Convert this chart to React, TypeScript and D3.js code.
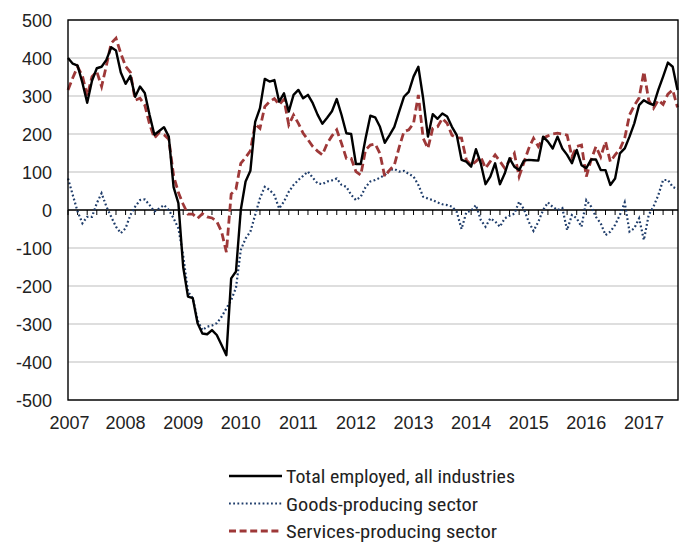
import React from "react";
import * as d3 from "d3";

const startYear = 2007;
const yearLabels = ["2007", "2008", "2009", "2010", "2011", "2012", "2013", "2014", "2015", "2016", "2017"];
const yTicks = [500, 400, 300, 200, 100, 0, -100, -200, -300, -400, -500];

// Monthly values, Jan 2007 – Aug 2017
const totalEmployed = [
  400, 385, 380, 335, 282, 340, 373, 377, 395, 428,
  420, 362, 332, 353, 298, 325, 308, 250, 198, 208,
  218, 193, 60, 18, -150, -228, -232, -298, -325, -327,
  -316, -329, -355, -382, -180, -162, 0, 75, 103, 232,
  268, 345, 338, 342, 285, 307, 259, 303, 316, 294,
  303, 281, 251, 227, 243, 260, 292, 250, 202, 200,
  121, 121, 188, 248, 244, 219, 177, 197, 219, 259,
  298, 311, 351, 377, 294, 193, 252, 240, 254, 246,
  219, 197, 132, 127, 114, 160, 123, 68, 88, 123,
  68, 96, 136, 114, 105, 130, 132, 131, 130, 193,
  180, 162, 193, 162, 145, 123, 158, 118, 110, 133,
  133, 105, 105, 66, 83, 149, 162, 193, 228, 276,
  289, 281, 276, 316, 351, 388, 377, 316,
];

const goodsProducing = [
  83, 39, -4, -35, -18, -18, 18, 44, 9, -18,
  -44, -61, -48, -13, 9, 26, 28, 13, -4, 4,
  13, 0, -22, -48, -120, -215, -232, -290, -316, -307,
  -304, -298, -281, -259, -237, -205, -105, -75, -57, -13,
  31, 61, 53, 39, 4, 22, 48, 66, 79, 90,
  101, 85, 70, 68, 75, 78, 83, 66, 61, 40,
  26, 35, 60, 75, 79, 85, 92, 105, 108, 101,
  103, 95, 88, 66, 35, 30, 26, 20, 15, 13,
  9, -5, -50, -6, -2, 13, -26, -44, -22, -30,
  -44, -22, -15, -10, 22, 2, -31, -55, -31, 0,
  20, 8, 0, 5, -53, -13, -22, -44, 26, 9,
  -18, -35, -66, -57, -39, -13, 20, -57, -48, -22,
  -79, -13, 9, 39, 79, 79, 61, 55,
];

const servicesProducing = [
  316, 348, 377, 353, 300, 351, 364, 325, 380, 439,
  452, 412, 378, 362, 289, 294, 276, 226, 189, 204,
  198, 186, 90, 46, 15, -11, -11, -22, -10, -18,
  -21, -30, -57, -111, 42, 55, 123, 138, 156, 226,
  215, 272, 285, 293, 277, 291, 224, 250, 228, 202,
  185, 167, 155, 145, 175, 195, 211, 175, 136, 136,
  101, 92, 158, 171, 174, 149, 88, 105, 118, 165,
  206, 211, 228, 303, 189, 162, 215, 219, 241, 228,
  197, 190, 189, 132, 118, 128, 140, 110, 128, 145,
  128, 110, 130, 149, 88, 125, 162, 189, 167, 189,
  195, 200, 202, 200, 197, 140, 167, 171, 88, 132,
  167, 140, 180, 127, 145, 160, 189, 250, 275, 295,
  364, 289, 268, 289, 278, 305, 316, 270,
];

const seriesNames = ["Total employed, all industries", "Goods-producing sector", "Services-producing sector"];

const W = 680;
const H = 542;
const plot = { left: 68, right: 678, top: 20, bottom: 400 };

export default function App() {
  const n = totalEmployed.length;
  const x = d3.scaleLinear().domain([0, n - 1]).range([plot.left, plot.right - 0.5]);
  const y = d3.scaleLinear().domain([-500, 500]).range([plot.bottom, plot.top]);
  const line = d3
    .line<number>()
    .x((_, i) => x(i))
    .y((d) => y(d));

  const tickIdx = d3.range(0, n, 2);
  const font = "'Liberation Sans', Arial, sans-serif";
  const narrow = "'Liberation Sans Narrow', 'Roboto Condensed', 'Liberation Sans', Arial, sans-serif";
  const textColor = "#222";
  const red = "#9e3838";
  const blue = "#1f3d6b";

  const legend = [
    { name: seriesNames[0], color: "#000", dash: "none", width: 2.6, tl: 229 },
    { name: seriesNames[1], color: blue, dash: "1.8,2.4", width: 2.2, tl: 192 },
    { name: seriesNames[2], color: red, dash: "7,3.6", width: 2.8, tl: 211 },
  ];

  return (
    <svg
      width={W}
      height={H}
      style={{ position: "absolute", left: 0, top: 0, background: "#fff" }}
    >
      {/* gridlines */}
      {yTicks.map((t) => (
        <line key={"g" + t} x1={plot.left} x2={plot.right} y1={y(t)} y2={y(t)} stroke="#bdbdbd" strokeWidth={1.2} />
      ))}
      {/* y labels */}
      {yTicks.map((t) => (
        <text
          key={"yl" + t}
          x={52}
          y={y(t) + 6.5}
          textAnchor="end"
          fontFamily={font}
          fontSize={18}
          fill={textColor}
        >
          {t}
        </text>
      ))}
      {/* x labels */}
      {yearLabels.map((lab, k) => (
        <text
          key={"xl" + lab}
          x={x(k * 12) + (k === 0 ? 1.5 : 0)}
          y={429}
          textAnchor="middle"
          fontFamily={font}
          fontSize={18}
          fill={textColor}
        >
          {lab}
        </text>
      ))}
      {/* zero axis + ticks */}
      <line x1={plot.left} x2={plot.right} y1={y(0)} y2={y(0)} stroke="#000" strokeWidth={1.6} />
      {tickIdx.map((i) => (
        <line key={"t" + i} x1={x(i)} x2={x(i)} y1={y(0)} y2={y(0) + 5} stroke="#000" strokeWidth={1} />
      ))}
      {/* series */}
      <path d={line(goodsProducing) || ""} fill="none" stroke={blue} strokeWidth={2.2} strokeDasharray="1.8,2.4" />
      <path d={line(servicesProducing) || ""} fill="none" stroke={red} strokeWidth={2.8} strokeDasharray="8,4" />
      <path d={line(totalEmployed) || ""} fill="none" stroke="#000" strokeWidth={2.4} strokeLinejoin="round" />
      {/* frame */}
      <rect
        x={plot.left}
        y={plot.top}
        width={plot.right - plot.left}
        height={plot.bottom - plot.top}
        fill="none"
        stroke="#000"
        strokeWidth={1.4}
      />
      {/* legend */}
      {legend.map((l, k) => (
        <g key={"lg" + k}>
          <line x1={229} x2={282} y1={476 + k * 27.5} y2={476 + k * 27.5} stroke={l.color} strokeWidth={l.width} strokeDasharray={l.dash} />
          <text
            x={286}
            y={483 + k * 27.5}
            fontFamily={narrow}
            fontSize={18}
            fill={textColor}
            textLength={l.tl}
            lengthAdjust="spacingAndGlyphs"
          >
            {l.name}
          </text>
        </g>
      ))}
    </svg>
  );
}
